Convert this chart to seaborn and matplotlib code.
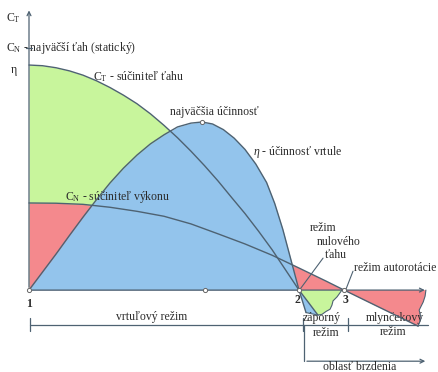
import matplotlib
matplotlib.use("Agg")
import matplotlib.pyplot as plt
import numpy as np
import pandas as pd
import seaborn as sns

# Propeller characteristic curves vs. advance ratio (point 2 = zero thrust)
ct_x = [0.0, 0.05, 0.1, 0.15, 0.2, 0.25, 0.3, 0.35, 0.4, 0.45, 0.5, 0.55, 0.6,
        0.65, 0.7, 0.75, 0.8, 0.85, 0.9, 0.95, 1.0, 1.035, 1.07]
ct_y = [1.0, 0.997, 0.988, 0.974, 0.955, 0.93, 0.90, 0.866, 0.828, 0.783, 0.732, 0.677, 0.617,
        0.553, 0.485, 0.412, 0.34, 0.262, 0.18, 0.09, 0.0, -0.055, -0.111]

eta_x = [0.0, 0.05, 0.1, 0.15, 0.2, 0.25, 0.3, 0.35, 0.4, 0.45, 0.5, 0.55, 0.6, 0.641,
         0.68, 0.72, 0.76, 0.8, 0.84, 0.88, 0.91, 0.94, 0.97, 1.0, 1.026]
eta_y = [0.0, 0.08, 0.16, 0.243, 0.324, 0.402, 0.476, 0.542, 0.60, 0.65, 0.69, 0.725, 0.742, 0.747,
         0.738, 0.713, 0.675, 0.625, 0.56, 0.478, 0.385, 0.27, 0.135, 0.0, -0.10]

cn_x = [0.0, 0.1, 0.2, 0.3, 0.4, 0.5, 0.6, 0.7, 0.8, 0.9, 1.0, 1.1, 1.167, 1.3, 1.441]
cn_y = [0.387, 0.386, 0.381, 0.368, 0.35, 0.328, 0.294, 0.25, 0.205, 0.155, 0.098, 0.04, 0.0, -0.078, -0.16]

# torn edges of the regions cut below the axis
green_break_x = [1.070, 1.085, 1.100, 1.115, 1.122, 1.126, 1.141, 1.159]
green_break_y = [-0.111, -0.108, -0.095, -0.085, -0.067, -0.048, -0.030, 0.0]
red_break_x = [1.441, 1.452, 1.445, 1.460, 1.467, 1.470]
red_break_y = [-0.160, -0.124, -0.089, -0.053, -0.027, 0.0]

# characteristic points on the axis
point_x = [0.0, 1.0, 1.167]
point_labels = ["1", "2", "3"]
eta_max_x = 0.641
eta_max_y = 0.747

GREEN = "#c8f59c"
RED = "#f4898d"
BLUE = "#93c4ec"
EDGE = "#4e6272"
TXT = "#2b2b2b"

sns.set_theme(style="white")
plt.rcParams["font.family"] = ["Liberation Serif", "DejaVu Serif"]
plt.rcParams["mathtext.fontset"] = "custom"
plt.rcParams["mathtext.rm"] = "Liberation Serif"
plt.rcParams["mathtext.it"] = "Liberation Serif:italic"

fig = plt.figure(figsize=(4.38, 3.72), dpi=100)
ax = fig.add_axes([0, 0, 1, 1])
ax.set_xlim(-0.1074, 1.5148)
ax.set_ylim(-0.364, 1.289)
ax.axis("off")

ct_x_a = np.array(ct_x)
ct_y_a = np.array(ct_y)
eta_x_a = np.array(eta_x)
eta_y_a = np.array(eta_y)
cn_x_a = np.array(cn_x)
cn_y_a = np.array(cn_y)

# thrust coefficient area (bottom layer)
pos = ct_y_a >= 0
ax.fill_between(ct_x_a[pos], 0, ct_y_a[pos], color=GREEN, lw=0, zorder=1)
neg = ct_x_a >= 1.0
gx = list(ct_x_a[neg]) + green_break_x[1:]
gy = list(ct_y_a[neg]) + green_break_y[1:]
ax.fill(gx, gy, color=GREEN, lw=0, zorder=3)
ax.plot(green_break_x, green_break_y, color=EDGE, lw=0.8, zorder=4)

# power coefficient area
ax.fill_between(cn_x_a, 0, cn_y_a, color=RED, lw=0, zorder=2)
ax.fill(list(red_break_x) + [1.167], list(red_break_y) + [0.0], color=RED, lw=0, zorder=2)
ax.plot(red_break_x, red_break_y, color=EDGE, lw=0.8, zorder=4)

# efficiency area (top layer)
pos = eta_y_a >= 0
ax.fill_between(eta_x_a[pos], 0, eta_y_a[pos], color=BLUE, lw=0, zorder=2.5)
ax.fill([1.0, 1.026, 1.07, 1.035], [0.0, -0.10, -0.111, -0.055], color=BLUE, lw=0, zorder=2.5)
ax.plot([1.026, 1.07], [-0.10, -0.111], color=EDGE, lw=0.8, zorder=4)

curves = pd.concat([
    pd.DataFrame({"x": ct_x, "y": ct_y, "curve": "CT"}),
    pd.DataFrame({"x": eta_x, "y": eta_y, "curve": "eta"}),
    pd.DataFrame({"x": cn_x, "y": cn_y, "curve": "CN"}),
])
sns.lineplot(data=curves, x="x", y="y", units="curve", estimator=None,
             color=EDGE, lw=1.0, ax=ax, zorder=5, legend=False)

# axes of the diagram
ax.annotate("", xy=(0, 1.255), xytext=(0, 0),
            arrowprops=dict(arrowstyle="->", color=EDGE, lw=0.9, mutation_scale=7), zorder=6)
ax.annotate("", xy=(1.476, 0), xytext=(0, 0),
            arrowprops=dict(arrowstyle="->", color=EDGE, lw=0.9, mutation_scale=7), zorder=6)
ax.plot([-0.012, 0.012], [1.076, 1.076], color=EDGE, lw=0.9, zorder=6)

ax.scatter(point_x + [0.652, eta_max_x], [0, 0, 0, 0, eta_max_y], s=9,
           facecolor="white", edgecolor="#666666", lw=0.7, zorder=7)

fs = 8.5
ax.text(-0.085, 1.209, "C$_\\mathrm{T}$", fontsize=fs, color=TXT, va="center")
ax.text(-0.085, 1.076, "C$_\\mathrm{N}$ - najväčší ťah (statický)", fontsize=fs, color=TXT, va="center")
ax.text(-0.066, 0.978, "η", fontsize=fs, color=TXT, va="center")
ax.text(0.237, 0.947, "C$_\\mathrm{T}$ - súčiniteľ ťahu", fontsize=fs, color=TXT, va="center")
ax.text(0.685, 0.791, "najväčšia účinnosť", fontsize=fs, color=TXT, va="center", ha="center")
ax.text(0.830, 0.613, "$\\mathit{η}$ - účinnosť vrtule", fontsize=fs, color=TXT, va="center")
ax.text(0.133, 0.413, "C$_\\mathrm{N}$ - súčiniteľ výkonu", fontsize=fs, color=TXT, va="center")

ax.text(1.089, 0.276, "režim", fontsize=fs, color=TXT, va="center", ha="center")
ax.text(1.148, 0.213, "nulového", fontsize=fs, color=TXT, va="center", ha="center")
ax.text(1.137, 0.156, "ťahu", fontsize=fs, color=TXT, va="center", ha="center")
ax.plot([1.089, 1.004], [0.142, 0.004], color=EDGE, lw=0.8, zorder=6)
ax.text(1.203, 0.098, "režim autorotácie", fontsize=fs, color=TXT, va="center")
ax.plot([1.200, 1.174], [0.084, 0.004], color=EDGE, lw=0.8, zorder=6)

label_pos = {"1": (0.0, -0.062), "2": (0.993, -0.045), "3": (1.174, -0.045)}
for lab in point_labels:
    lx, ly = label_pos[lab]
    ax.text(lx, ly, lab, fontsize=fs, color=TXT, ha="center", va="center", fontweight="bold")

# operating regimes below the diagram
yl = -0.153
ax.plot([0.004, 1.478], [yl, yl], color=EDGE, lw=0.9)
for tx in [0.004, 1.015, 1.181]:
    ax.plot([tx, tx], [yl + 0.03, yl - 0.03], color=EDGE, lw=0.9)
ax.text(0.456, -0.12, "vrtuľový režim", fontsize=fs, color=TXT, ha="center", va="center")
ax.text(1.085, -0.124, "záporný", fontsize=fs, color=TXT, ha="center", va="center")
ax.text(1.100, -0.191, "režim", fontsize=fs, color=TXT, ha="center", va="center")
ax.text(1.356, -0.124, "mlynčekový", fontsize=fs, color=TXT, ha="center", va="center")
ax.text(1.348, -0.187, "režim", fontsize=fs, color=TXT, ha="center", va="center")

ax.plot([1.019, 1.019], [yl, -0.316], color=EDGE, lw=0.9)
ax.annotate("", xy=(1.478, -0.316), xytext=(1.019, -0.316),
            arrowprops=dict(arrowstyle="->", color=EDGE, lw=0.9, mutation_scale=7))
ax.text(1.226, -0.343, "oblasť brzdenia", fontsize=fs, color=TXT, ha="center", va="center")

fig.savefig("out.png", dpi=100)
